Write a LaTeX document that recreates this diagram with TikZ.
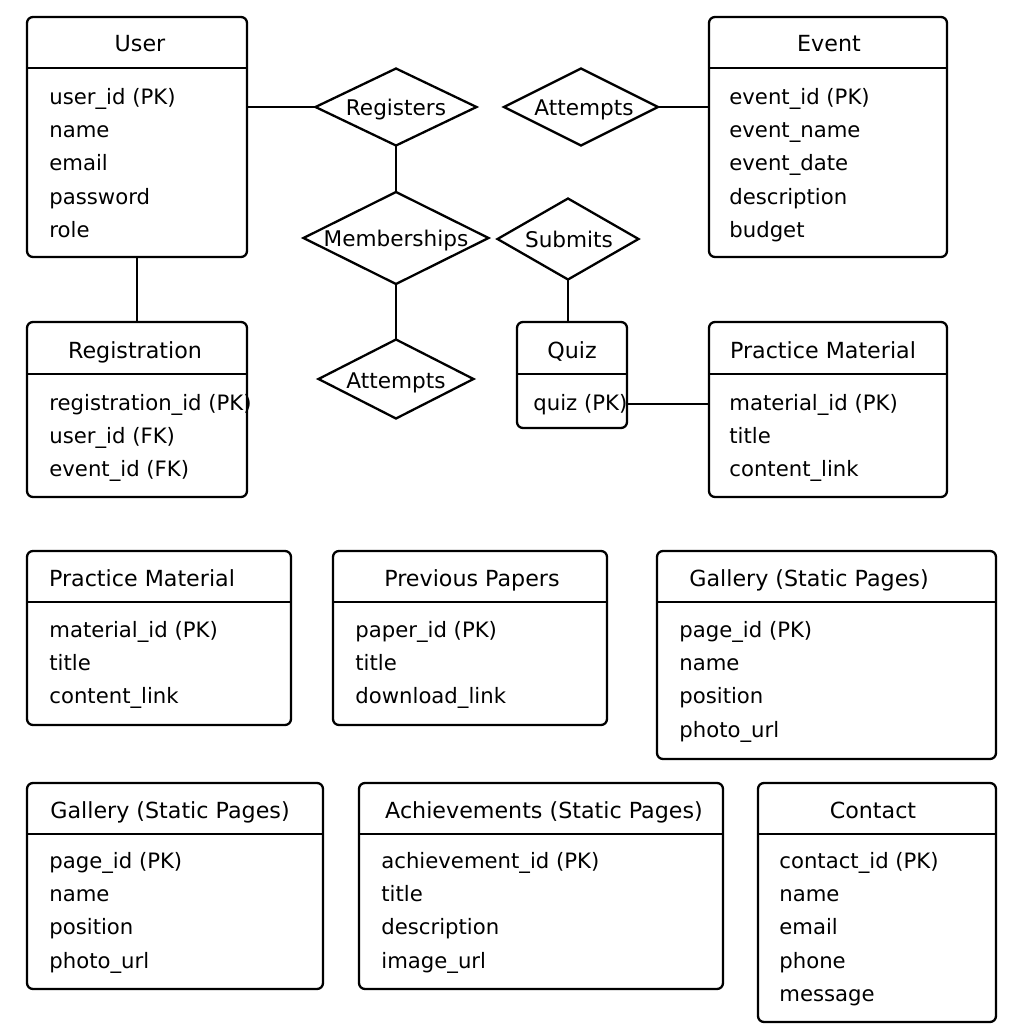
\documentclass[tikz,border=0pt]{standalone}
\usepackage{fontspec}
\setmainfont{DejaVu Sans}
\usetikzlibrary{shapes.geometric}
\newcommand\entbox[6]{%
  \node[box, minimum width={(#4-#2)*0.5pt}, minimum height={(#5-#3)*0.5pt}] (#1) at (#2,#3) {};
  \draw[line] (#2,#6) -- (#4,#6);}
\newcommand\attrlist[4]{%
  \foreach \t [count=\i] in {#4} {\node[txt] (#1-\i) at (#2,{#3+33.4*(\i-1)}) {\t};}}
\begin{document}
\begin{tikzpicture}[x=0.5pt,y=-0.5pt,
  line/.style={line width=1.15pt},
  box/.style={draw, line width=1.15pt, rounded corners=3pt, inner sep=0pt, outer sep=0pt, anchor=north west},
  rel/.style={draw, diamond, line width=1.15pt, inner sep=0pt, outer sep=0pt},
  txt/.style={font=\fontsize{10.6pt}{12pt}\selectfont, inner sep=0pt, anchor=base west},
  ttl/.style={font=\fontsize{11.1pt}{13pt}\selectfont, inner sep=0pt, anchor=base},
  rtl/.style={font=\fontsize{10.8pt}{12pt}\selectfont, inner sep=0pt, anchor=base}]
\useasboundingbox[fill=white] (0,0) rectangle (1024,1024);

% Entities
\entbox{user}{27}{17}{247}{257}{68}
\node[ttl] (user-t) at (140,51) {User};
\attrlist{user}{49}{104}{user\_id (PK),name,email,password,role}

\entbox{event}{709}{17}{947}{257}{68}
\node[ttl] (event-t) at (829,51) {Event};
\attrlist{event}{729}{104}{event\_id (PK),event\_name,event\_date,description,budget}

\entbox{registration}{27}{322}{247}{497}{374}
\node[ttl] (registration-t) at (135,358) {Registration};
\attrlist{registration}{49}{410}{registration\_id (PK),user\_id (FK),event\_id (FK)}

\entbox{quiz}{517}{322}{627}{428}{374}
\node[ttl] (quiz-t) at (572,358) {Quiz};
\attrlist{quiz}{533}{410}{quiz (PK)}

\entbox{pm}{709}{322}{947}{497}{374}
\node[ttl] (pm-t) at (823,358) {Practice Material};
\attrlist{pm}{729}{410}{material\_id (PK),title,content\_link}

\entbox{pmb}{27}{551}{291}{725}{602}
\node[ttl] (pmb-t) at (142,586) {Practice Material};
\attrlist{pmb}{49}{637}{material\_id (PK),title,content\_link}

\entbox{pp}{333}{551}{607}{725}{602}
\node[ttl] (pp-t) at (472,586) {Previous Papers};
\attrlist{pp}{355}{637}{paper\_id (PK),title,download\_link}

\entbox{gal}{657}{551}{996}{759}{602}
\node[ttl] (gal-t) at (809,586) {Gallery (Static Pages)};
\attrlist{gal}{679}{637}{page\_id (PK),name,position,photo\_url}

\entbox{galb}{27}{783}{323}{989}{834}
\node[ttl] (galb-t) at (170,818) {Gallery (Static Pages)};
\attrlist{galb}{49}{868}{page\_id (PK),name,position,photo\_url}

\entbox{ach}{359}{783}{723}{989}{834}
\node[ttl] (ach-t) at (544,818) {Achievements (Static Pages)};
\attrlist{ach}{381}{868}{achievement\_id (PK),title,description,image\_url}

\entbox{con}{758}{783}{996}{1022}{834}
\node[ttl] (con-t) at (873,818) {Contact};
\attrlist{con}{779}{868}{contact\_id (PK),name,email,phone,message}

% Relationships
\node[rel, minimum width=80.5pt, minimum height=38.5pt] (registers) at (396,107) {};
\node[rtl] (registers-t) at (396,115) {Registers};
\node[rel, minimum width=77pt, minimum height=38.5pt] (attempts1) at (581,107) {};
\node[rtl] (attempts1-t) at (584,115) {Attempts};
\node[rel, minimum width=92.5pt, minimum height=46pt] (memberships) at (396,238) {};
\node[rtl] (memberships-t) at (396,246) {Memberships};
\node[rel, minimum width=70.5pt, minimum height=40.5pt] (submits) at (568,239) {};
\node[rtl] (submits-t) at (569,247) {Submits};
\node[rel, minimum width=77.5pt, minimum height=39.5pt] (attempts2) at (396,379) {};
\node[rtl] (attempts2-t) at (396,388) {Attempts};

% Connectors
\draw[line] (registers.west -| user.east) -- (registers.west);
\draw[line] (registers.south) -- (memberships.north);
\draw[line] (memberships.south) -- (attempts2.north);
\draw[line] (attempts1.east) -- (attempts1.east -| event.west);
\draw[line] (submits.south) -- (submits.south |- quiz.north);
\draw[line] ([yshift=12pt]quiz.south east) -- ([yshift=12pt]quiz.south east -| pm.west);
\draw[line] (user.south) -- (registration.north);
\end{tikzpicture}
\end{document}
